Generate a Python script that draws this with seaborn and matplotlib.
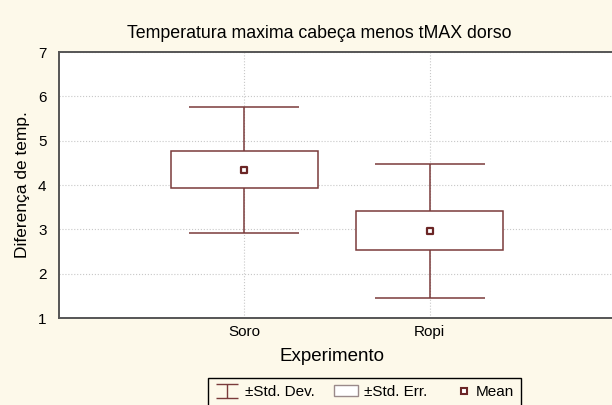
import seaborn as sns
import matplotlib.pyplot as plt
import pandas as pd
from matplotlib.path import Path
from matplotlib.lines import Line2D
from matplotlib.patches import Patch
from matplotlib.legend_handler import HandlerBase
from matplotlib.ticker import AutoMinorLocator

# valores (media, +-erro padrao, +-desvio padrao)
experimento = ["Soro", "Ropi"]
media = [4.34, 2.97]
se_baixo = [3.93, 2.53]
se_alto = [4.76, 3.41]
sd_baixo = [2.91, 1.44]
sd_alto = [5.75, 4.47]

df = pd.DataFrame({"Experimento": experimento, "Media": media,
                   "SE_lo": se_baixo, "SE_hi": se_alto,
                   "SD_lo": sd_baixo, "SD_hi": sd_alto})

fundo = "#fdf9ea"
cor = "#7a3b3b"

sns.set_style("white")
plt.rcParams["font.family"] = ["Liberation Sans", "DejaVu Sans"]
plt.rcParams["text.color"] = "black"
plt.rcParams["axes.labelcolor"] = "black"

fig = plt.figure(figsize=(6.12, 4.05), dpi=100, facecolor=fundo)
ax = fig.add_axes([59 / 612, 1 - 318 / 405, 556 / 612, 266 / 405])
ax.set_facecolor("white")

# desvio padrao (bigodes)
ax.errorbar(df["Experimento"], df["Media"],
            yerr=[df["Media"] - df["SD_lo"], df["SD_hi"] - df["Media"]],
            fmt="none", ecolor=cor, elinewidth=1.1, capsize=39.5,
            capthick=1.1, zorder=2)
# erro padrao (caixa)
ax.bar(df["Experimento"], df["SE_hi"] - df["SE_lo"], bottom=df["SE_lo"],
       width=0.79, facecolor="white", edgecolor=cor, linewidth=1.1, zorder=3)
# media
sns.scatterplot(data=df, x="Experimento", y="Media", marker="s", s=22,
                color="white", edgecolor="#6b2626", linewidth=1.6,
                zorder=4, ax=ax)

ax.set_xlim(-1, 2)
ax.set_ylim(1, 7)
ax.set_yticks(range(1, 8))
ax.yaxis.set_minor_locator(AutoMinorLocator(5))
ax.grid(True, linestyle=":", color="#c8c8c8", linewidth=0.8)
ax.set_axisbelow(True)
ax.tick_params(axis="both", direction="in", length=3, width=0.8,
               labelsize=11, colors="#333333", labelcolor="black")
ax.tick_params(axis="x", pad=5)
ax.tick_params(axis="y", pad=9)
ax.tick_params(axis="y", which="minor", direction="in", length=1.5,
               width=0.6, colors="#666666")
for s in ax.spines.values():
    s.set_color("#555555")
    s.set_linewidth(1.4)

ax.set_xlabel("Experimento", fontsize=13.5)
ax.set_ylabel("Diferença de temp.", fontsize=12.5)
ax.xaxis.set_label_coords((332 - 59) / 556, -0.112)
ax.yaxis.set_label_coords(-0.052, 0.5)
fig.text(319.5 / 612, 1 - 33 / 405, "Temperatura maxima cabeça menos tMAX dorso",
         ha="center", va="center", fontsize=12.8)


# marcador da media encostado a direita da area do simbolo
class HandlerMedia(HandlerBase):
    def create_artists(self, legend, orig_handle, xdescent, ydescent,
                       width, height, fontsize, trans):
        m = Line2D([width - 0.25 * width - xdescent], [height / 2 - ydescent],
                   linestyle="none", marker="s", markersize=5,
                   markerfacecolor="white", markeredgecolor="#6b2626",
                   markeredgewidth=1.5, transform=trans)
        return [m]


# legenda
cap_path = Path([(-1, 0.6), (1, 0.6), (0, 0.6), (0, -0.6), (-1, -0.6), (1, -0.6)],
                [Path.MOVETO, Path.LINETO, Path.MOVETO, Path.LINETO,
                 Path.MOVETO, Path.LINETO])
h_sd = Line2D([], [], linestyle="none", marker=cap_path, markersize=16,
              markeredgecolor=cor, markeredgewidth=1.0, markerfacecolor="none")
h_se = Patch(facecolor="white", edgecolor="#9a8a8a", linewidth=1.0)
h_media = Line2D([], [], linestyle="none", marker="s")
leg = fig.legend([h_sd, h_se, h_media], ["±Std. Dev.", "±Std. Err.", "Mean"],
                 ncol=3, loc="upper left",
                 bbox_to_anchor=(208 / 612, 1 - 378 / 405),
                 handler_map={h_media: HandlerMedia()},
                 fontsize=11, frameon=True, fancybox=False,
                 facecolor=fundo, edgecolor="black", framealpha=1,
                 handlelength=1.6, handletextpad=0.4, columnspacing=1.2,
                 borderpad=0.45, borderaxespad=0)
leg.get_frame().set_linewidth(1.0)

fig.savefig("out.png", dpi=100, facecolor=fundo)
